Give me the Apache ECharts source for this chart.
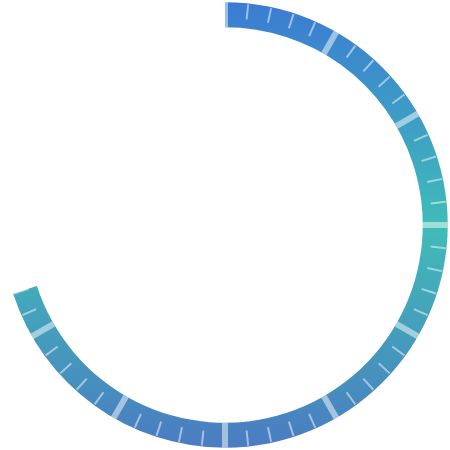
<!DOCTYPE html>
<html>
<head>
<meta charset="utf-8">
<script src="https://cdn.jsdelivr.net/npm/echarts@6/dist/echarts.min.js"></script>
<style>html,body{margin:0;padding:0;background:#fff}#c{width:450px;height:450px}</style>
</head>
<body>
<div id="c"></div>
<script>
var gaugeMin = 0;
var gaugeMax = 100;
var gaugeValues = [70];
var majorSplits = 12;
var minorPerSplit = 5;

var base = {
  type: 'gauge',
  center: ['50%', '50%'],
  radius: '99%',
  min: gaugeMin,
  max: gaugeMax,
  pointer: { show: false },
  progress: { show: false },
  axisTick: { show: false },
  axisLabel: { show: false },
  title: { show: false },
  detail: { show: false },
  axisLine: { show: false, lineStyle: { width: 25, color: [[1, 'rgba(0,0,0,0)']] } },
  splitLine: { show: false },
  silent: true
};

function mk(extra) { return Object.assign({}, base, extra); }

var series = [];

// coloured progress ring
series.push(mk({
  z: 2,
  startAngle: 90,
  endAngle: -270,
  splitNumber: majorSplits,
  progress: {
    show: true,
    width: 25,
    itemStyle: {
      color: new echarts.graphic.LinearGradient(0, 0, 0, 1, [
        { offset: 0, color: '#3b7bd3' },
        { offset: 0.5, color: '#40bcb8' },
        { offset: 1, color: '#4a7cc1' }
      ])
    }
  },
  data: gaugeValues.map(function (v) { return { value: v }; })
}));

var step = 360 / majorSplits;
var sub = step / minorPerSplit;

// minor ticks (one series per offset so no tick sits under a major split)
for (var k = 1; k < minorPerSplit; k++) {
  var s0 = 90 - sub * k;
  series.push(mk({
    z: 3,
    startAngle: s0,
    endAngle: s0 - step * (majorSplits - 1),
    splitNumber: majorSplits - 1,
    splitLine: { show: true, distance: -24, length: 15, lineStyle: { width: 2, color: 'rgba(255,255,255,0.5)' } },
    data: [{ value: gaugeMin }]
  }));
}

// major split lines
series.push(mk({
  z: 4,
  startAngle: 90,
  endAngle: 90 - step * (majorSplits - 1),
  splitNumber: majorSplits - 1,
  splitLine: { show: true, distance: -25, length: 25, lineStyle: { width: 6, color: 'rgba(255,255,255,0.5)' } },
  data: [{ value: gaugeMin }]
}));

var chart = echarts.init(document.getElementById('c'));
chart.setOption({
  animation: false,
  series: series
});
</script>
</body>
</html>
